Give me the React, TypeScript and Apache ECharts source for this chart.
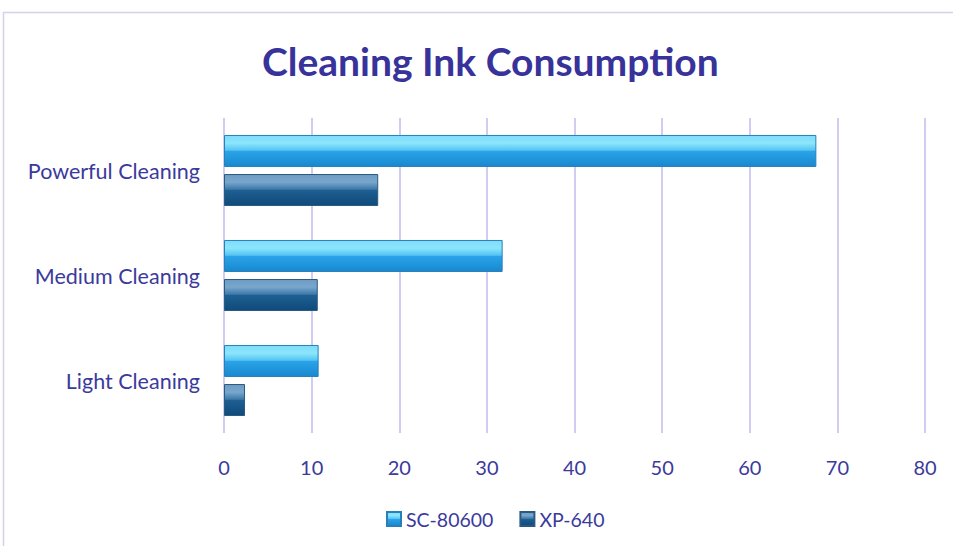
import React, { useEffect, useRef } from "react";
import * as echarts from "echarts";

const categories = ["Light Cleaning", "Medium Cleaning", "Powerful Cleaning"];
const sc80600 = [10.8, 31.8, 67.6];
const xp640 = [2.4, 10.7, 17.6];
const seriesNames = ["SC-80600", "XP-640"];

const textColor = "#3b3a9c";

export default function App() {
  const ref = useRef<HTMLDivElement>(null);
  useEffect(() => {
    const chart = echarts.init(ref.current!, null, { renderer: "svg" });
    const gradSC = new echarts.graphic.LinearGradient(0, 0, 0, 1, [
      { offset: 0, color: "#7fdcfa" },
      { offset: 0.25, color: "#8be6fc" },
      { offset: 0.48, color: "#55c3f3" },
      { offset: 0.5, color: "#2aa4e8" },
      { offset: 1, color: "#1888d0" },
    ]);
    const gradXP = new echarts.graphic.LinearGradient(0, 0, 0, 1, [
      { offset: 0, color: "#6f9cc4" },
      { offset: 0.25, color: "#78a6cc" },
      { offset: 0.48, color: "#3b78a8" },
      { offset: 0.5, color: "#1f5f92" },
      { offset: 1, color: "#0f4a7a" },
    ]);
    chart.setOption({
      animation: false,
      title: {
        text: "Cleaning Ink Consumption",
        left: 257,
        top: 36,
        textStyle: {
          color: "#38329b",
          fontSize: 39,
          fontWeight: "bold",
          fontFamily: "Lato",
        },
      },
      graphic: [
        {
          type: "rect",
          shape: { x: 3.5, y: 12.5, width: 1000, height: 600 },
          style: { fill: "none", stroke: "#d4d0ee", lineWidth: 1.5 },
          silent: true,
        },
      ],
      legend: {
        data: seriesNames,
        bottom: 12,
        left: 381,
        icon: "rect",
        itemWidth: 14,
        itemHeight: 14,
        itemGap: 26,
        textStyle: { color: textColor, fontSize: 19.5, fontFamily: "Lato" },
      },
      grid: { left: 224, right: 28, top: 118, bottom: 113 },
      xAxis: {
        type: "value",
        min: 0,
        max: 80,
        interval: 10,
        axisLine: { show: false },
        axisTick: { show: false },
        axisLabel: { color: textColor, fontSize: 20, margin: 24, fontFamily: "Lato" },
        splitLine: { lineStyle: { color: "#d3ccf2", width: 2 } },
      },
      yAxis: {
        type: "category",
        data: categories,
        axisLine: { show: false },
        axisTick: { show: false },
        axisLabel: { color: textColor, fontSize: 21.5, margin: 24, fontFamily: "Lato" },
      },
      series: [
        {
          name: seriesNames[0],
          type: "bar",
          data: sc80600,
          barWidth: 32,
          barGap: "22%",
          itemStyle: { color: gradSC, borderColor: "#2a7fb8", borderWidth: 1 },
        },
        {
          name: seriesNames[1],
          type: "bar",
          data: xp640,
          barWidth: 32,
          barGap: "22%",
          itemStyle: { color: gradXP, borderColor: "#2b5a80", borderWidth: 1 },
        },
      ],
    });
    return () => chart.dispose();
  }, []);
  return (
    <div
      ref={ref}
      style={{ position: "fixed", left: 0, top: 0, width: 953, height: 546, background: "#fff" }}
    />
  );
}
